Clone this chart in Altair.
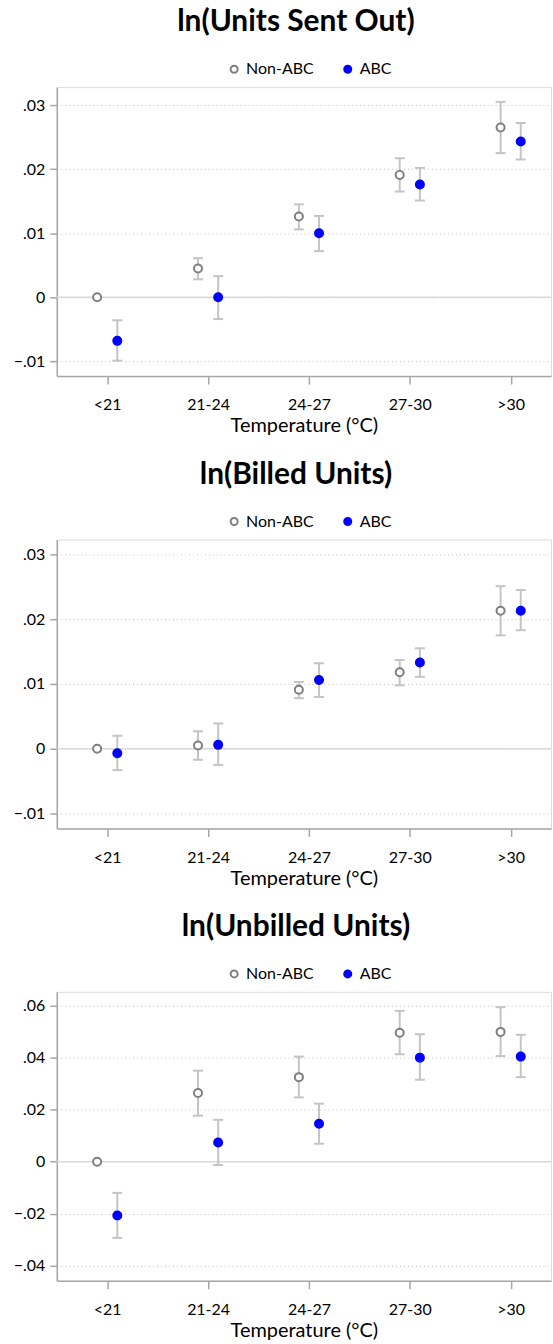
import json
import altair as alt
import pandas as pd

categories = ["<21", "21-24", "24-27", "27-30", ">30"]
series_names = ["Non-ABC", "ABC"]
series_offset = [-0.1, 0.1]

# ln(Units Sent Out)
sent_non = [0.0, 0.0045, 0.0126, 0.0191, 0.0265]
sent_non_lo = [None, 0.0028, 0.0106, 0.0165, 0.0225]
sent_non_hi = [None, 0.0061, 0.0145, 0.0217, 0.0305]
sent_abc = [-0.0068, 0.0000, 0.0100, 0.0176, 0.0243]
sent_abc_lo = [-0.0099, -0.0034, 0.0072, 0.0151, 0.0215]
sent_abc_hi = [-0.0036, 0.0033, 0.0127, 0.0202, 0.0272]

# ln(Billed Units)
billed_non = [0.0, 0.0005, 0.0091, 0.0118, 0.0213]
billed_non_lo = [None, -0.0017, 0.0078, 0.0098, 0.0175]
billed_non_hi = [None, 0.0027, 0.0103, 0.0137, 0.0251]
billed_abc = [-0.0007, 0.0006, 0.0106, 0.0133, 0.0213]
billed_abc_lo = [-0.0033, -0.0025, 0.0080, 0.0111, 0.0183]
billed_abc_hi = [0.0020, 0.0039, 0.0132, 0.0155, 0.0245]

# ln(Unbilled Units)
unbilled_non = [0.0, 0.0264, 0.0325, 0.0496, 0.0499]
unbilled_non_lo = [None, 0.0177, 0.0247, 0.0413, 0.0406]
unbilled_non_hi = [None, 0.0350, 0.0404, 0.0580, 0.0594]
unbilled_abc = [-0.0207, 0.0074, 0.0146, 0.0400, 0.0404]
unbilled_abc_lo = [-0.0293, -0.0013, 0.0069, 0.0315, 0.0325]
unbilled_abc_hi = [-0.0120, 0.0161, 0.0223, 0.0490, 0.0488]

titles = ["ln(Units Sent Out)", "ln(Billed Units)", "ln(Unbilled Units)"]
ticks_small = [-0.01, 0, 0.01, 0.02, 0.03]
ticks_large = [-0.04, -0.02, 0, 0.02, 0.04, 0.06]

FONT = "Lato"
GRAY_PT = "#7f7f7f"
BLUE = "#0000ff"
ERR = "#c4c4c4"
AXIS = "#a6a6a6"

label_expr = "%s[datum.value - 1]" % json.dumps(categories)
y_label_expr = "datum.value == 0 ? '0' : replace(format(datum.value, '.2f'), '0.', '.')"


def build_df(non, non_lo, non_hi, abc, abc_lo, abc_hi):
    rows = []
    for s, (est, lo, hi) in enumerate([(non, non_lo, non_hi), (abc, abc_lo, abc_hi)]):
        for i, cat in enumerate(categories):
            rows.append({
                "series": series_names[s],
                "x": i + 1 + series_offset[s],
                "est": est[i],
                "lo": lo[i],
                "hi": hi[i],
            })
    return pd.DataFrame(rows)


def panel(title, df, yticks, ydomain):
    xscale = alt.Scale(domain=[0.5, 5.4], nice=False, zero=False)
    yscale = alt.Scale(domain=ydomain, nice=False, zero=False)
    xaxis = alt.Axis(values=[1, 2, 3, 4, 5], labelExpr=label_expr, grid=False,
                     title="Temperature (°C)", titleFontSize=20, titleFontWeight="normal",
                     titleFont=FONT, labelFont=FONT, labelFontSize=16, labelColor="black",
                     titleColor="black", domainColor=AXIS, tickColor=AXIS, tickSize=8,
                     labelPadding=13, titlePadding=3, domainWidth=1.5, tickWidth=1.5)
    yaxis = alt.Axis(values=yticks, labelExpr=y_label_expr, grid=True, gridDash=[1, 3],
                     gridColor="#c0c0c0", title=None, labelFont=FONT, labelFontSize=16,
                     labelColor="black", domainColor=AXIS, tickColor=AXIS, tickSize=7,
                     labelPadding=5, domainWidth=1.5, tickWidth=1.5)

    base = alt.Chart(df)
    zero = alt.Chart(pd.DataFrame({"y": [0.0]})).mark_rule(color="#d9d9d9", strokeWidth=1.5).encode(
        y=alt.Y("y:Q", scale=yscale, axis=yaxis)
    )
    bars = base.transform_filter("isValid(datum.lo)").mark_rule(color=ERR, strokeWidth=2).encode(
        x=alt.X("x:Q", scale=xscale, axis=xaxis),
        y=alt.Y("lo:Q", scale=yscale, axis=yaxis),
        y2="hi:Q",
    )
    cap_lo = base.transform_filter("isValid(datum.lo)").mark_tick(
        color=ERR, orient="horizontal", size=10, thickness=2, opacity=1).encode(
        x=alt.X("x:Q", scale=xscale, axis=xaxis),
        y=alt.Y("lo:Q", scale=yscale, axis=yaxis),
    )
    cap_hi = base.transform_filter("isValid(datum.hi)").mark_tick(
        color=ERR, orient="horizontal", size=10, thickness=2, opacity=1).encode(
        x=alt.X("x:Q", scale=xscale, axis=xaxis),
        y=alt.Y("hi:Q", scale=yscale, axis=yaxis),
    )
    legend = alt.Legend(title=None, orient="none", legendX=170, legendY=-26,
                        direction="horizontal", labelFont=FONT, labelFontSize=16,
                        labelColor="black", symbolSize=50, symbolStrokeWidth=2,
                        symbolType="circle", columnPadding=26)
    pts = base.mark_point(shape="circle", size=65, strokeWidth=2, opacity=1, fillOpacity=1).encode(
        x=alt.X("x:Q", scale=xscale, axis=xaxis),
        y=alt.Y("est:Q", scale=yscale, axis=yaxis),
        stroke=alt.Stroke("series:N", scale=alt.Scale(domain=series_names, range=[GRAY_PT, BLUE]),
                          legend=legend),
        fill=alt.Fill("series:N", scale=alt.Scale(domain=series_names, range=["white", BLUE]),
                      legend=legend),
    )
    return alt.layer(zero, bars, cap_lo, cap_hi, pts).properties(
        width=496, height=290,
        title=alt.TitleParams(title, font=FONT, fontSize=30, fontWeight="bold",
                              anchor="middle", offset=24, dx=-8, color="black"),
    )


p1 = panel(titles[0], build_df(sent_non, sent_non_lo, sent_non_hi, sent_abc, sent_abc_lo, sent_abc_hi),
           ticks_small, [-0.0123, 0.0328])
p2 = panel(titles[1], build_df(billed_non, billed_non_lo, billed_non_hi, billed_abc, billed_abc_lo, billed_abc_hi),
           ticks_small, [-0.0123, 0.0323])
p3 = panel(titles[2], build_df(unbilled_non, unbilled_non_lo, unbilled_non_hi, unbilled_abc, unbilled_abc_lo, unbilled_abc_hi),
           ticks_large, [-0.0458, 0.0653])

chart = alt.vconcat(p1, p2, p3, spacing=22).resolve_scale(
    y="independent", x="independent", stroke="independent", fill="independent"
).resolve_legend(stroke="independent", fill="independent").properties(
    padding={"left": 12, "top": 4, "right": 0, "bottom": 0}
).configure_view(stroke=None).configure(font=FONT, background="white")

chart.save("out.html", embed_options={"renderer": "svg", "actions": False})
